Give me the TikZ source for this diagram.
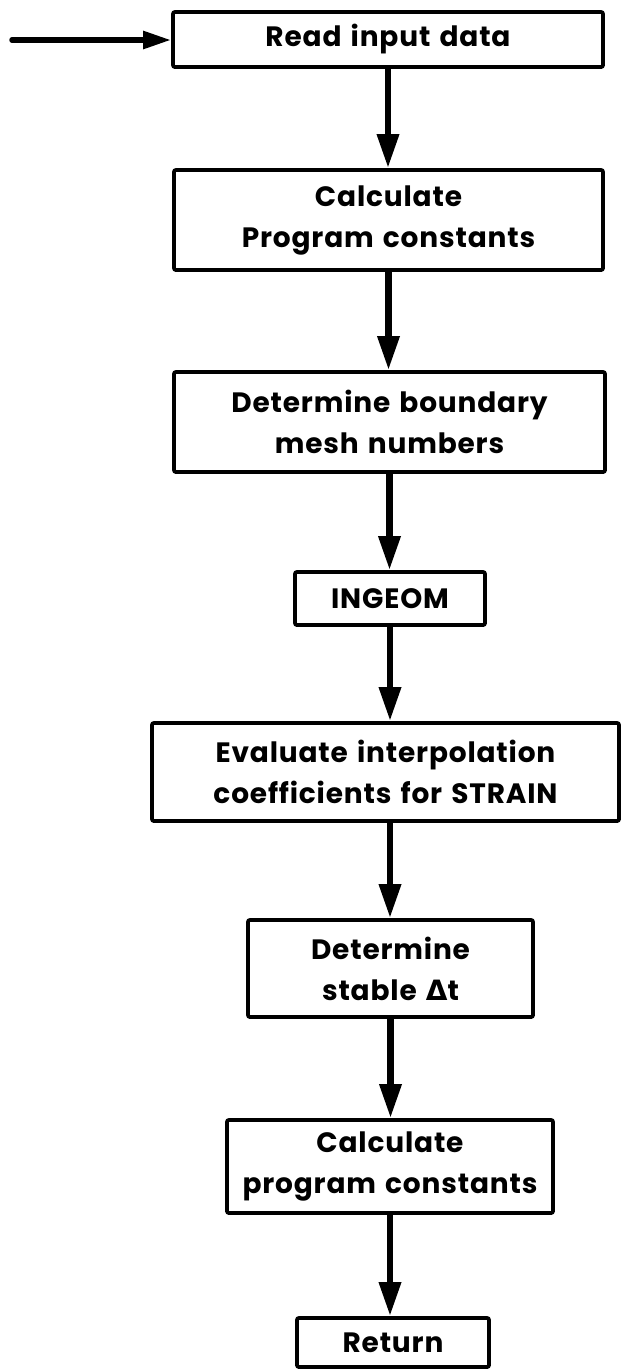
\documentclass[tikz,border=0pt]{standalone}
\usepackage{fontspec}
\setmainfont{Poppins}[LetterSpace=3,WordSpace=1.35]
\newfontfamily\greekfont{DejaVu Sans}
\usetikzlibrary{arrows.meta}
\tikzset{
  flowbox/.style={draw=black, line width=3.8pt, rounded corners=2pt, inner sep=0pt,
    align=center, font=\fontsize{28}{41}\selectfont\bfseries},
  flowarrow/.style={line width=6.5pt, -{Triangle[width=21pt,length=34pt]}},
  inarrow/.style={line width=5.5pt, line cap=round, -{Triangle[width=17pt,length=28pt]}}
}
\begin{document}
\begin{tikzpicture}[x=1pt,y=-1pt]
\useasboundingbox (0,0) rectangle (621,1369);
\node[flowbox, minimum width=430pt, minimum height=55pt] (read) at (388,39.5) {Read input data};
\node[flowbox, minimum width=429pt, minimum height=100pt] (calc1) at (388.5,220) {Calculate\\Program constants};
\node[flowbox, minimum width=431pt, minimum height=100pt] (bound) at (389.5,422) {Determine boundary\\mesh numbers};
\node[flowbox, minimum width=190pt, minimum height=53pt] (ingeom) at (390,598.5) {INGEOM};
\node[flowbox, minimum width=467pt, minimum height=98pt] (eval) at (385.5,772) {Evaluate interpolation\\coefficients for STRAIN};
\node[flowbox, minimum width=285pt, minimum height=97pt] (stable) at (390.5,968.5) {Determine\\stable {\greekfont\bfseries Δ}t};
\node[flowbox, minimum width=326pt, minimum height=93pt] (calc2) at (390,1166.5) {Calculate\\program constants};
\node[flowbox, minimum width=192pt, minimum height=49pt] (ret) at (393,1342.5) {Return};
\coordinate (start) at (12,40);
\draw[inarrow] (start) -- (start -| read.west);
\draw[flowarrow] (read.south) -- (read.south |- calc1.north);
\draw[flowarrow] (calc1.south) -- (calc1.south |- bound.north);
\draw[flowarrow] (bound.south) -- (bound.south |- ingeom.north);
\draw[flowarrow] (ingeom.south) -- (ingeom.south |- eval.north);
\draw[flowarrow] (ingeom.south |- eval.south) -- (ingeom.south |- stable.north);
\draw[flowarrow] (stable.south) -- (stable.south |- calc2.north);
\draw[flowarrow] (calc2.south) -- (calc2.south |- ret.north);
\end{tikzpicture}
\end{document}
